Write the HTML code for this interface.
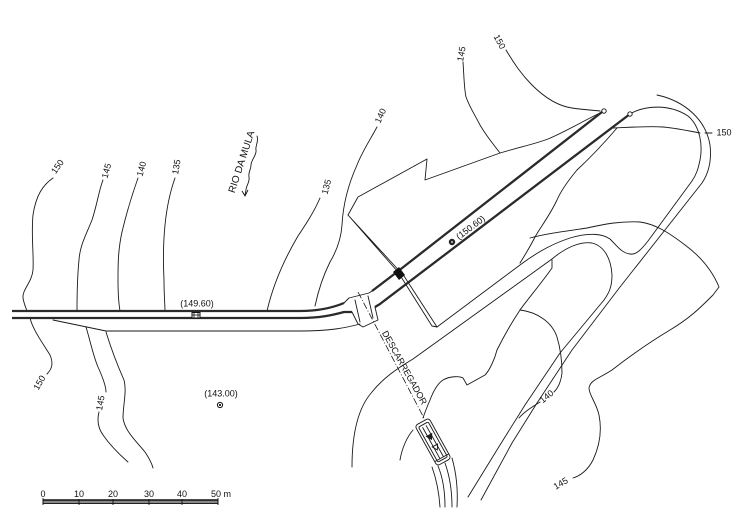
<!DOCTYPE html>
<html><head><meta charset="utf-8"><style>
html,body{margin:0;padding:0;background:#fff;}
svg{display:block;}
text{font-family:"Liberation Sans",sans-serif;fill:#111;}
</style></head><body>
<svg width="750" height="531" viewBox="0 0 750 531" xmlns="http://www.w3.org/2000/svg">
<rect width="750" height="531" fill="#fff"/>
<g fill="none" stroke="#1a1a1a" stroke-width="0.9" stroke-linejoin="round" stroke-linecap="round">
<!-- left contours -->
<path d="M53,178 C43,185 36,195 33,215 C31,235 34,255 33,270 C32,282 22,290 23,298 C24,304 26,308 27,311"/>
<path d="M30,318 C33,330 42,342 50,355 C53,362 53,368 47,374"/>
<path d="M103,180 C99,190 97,205 92,220 C86,235 80,245 79,260 C77,280 77,295 77,311"/>
<path d="M86,327 C90,340 93,355 98,367 C103,378 106,386 106,392"/>
<path d="M99,412 C97,420 98,428 103,435 C110,445 120,455 128,462"/>
<path d="M106,332 C110,345 116,362 124,380 C127,392 123,405 123,418 C125,432 138,443 145,452 C149,458 152,464 153,468"/>
<path d="M138,178 C132,195 126,215 122,232 C118,250 118,265 118,280 C118,295 119,305 120,311"/>
<path d="M175,178 C170,192 167,205 165,225 C163,245 163,260 164,280 C164,295 165,305 165,311"/>
<path d="M320,198 C314,212 306,224 298,236 C285,258 273,285 267,311"/>
<path d="M377,127 C370,140 362,152 357,165 C348,185 343,205 342,225 C341,240 336,252 330,262 C322,278 318,292 315,306"/>
<!-- toe line -->
<path d="M53,320 L106,331 L300,331 C330,331 345,328 360,324"/>
<!-- river arrow -->
<path d="M257,136 C259,142 255,146 256,150 C257,155 251,160 251,165 C251,170 248,172 249,177 C250,182 246,186 246,190 L245,195"/>
<!-- dam upstream outline -->
<path d="M348,215 L358,197 L427,159 L425,180 L500,153 C520,147 535,144 548,139 C565,132 585,120 602,112"/>
<path d="M463,62 C464,75 464,88 466,97 C470,108 475,115 480,125 C487,137 494,145 500,153"/>
<path d="M506,50 C515,65 522,75 532,85 C545,98 558,106 572,108 C585,110 592,110 600,111"/>
<!-- spike lines -->
<path d="M348,215 L398,272 L432,326 L437,327 L404,276 Z"/>
<!-- toe / branch upper + notch + inner loop -->
<path d="M437,327 L520,265 C540,250 555,243 570,238 C590,232 603,234 610,239 C618,247 622,253 630,254 C636,255 641,250 648,241 L692,181 C696,175 698,170 700,160 C703,145 700,126 688,116 C670,104 645,105 630,114"/>
<!-- outer loop / right road line -->
<path d="M657,95 C685,101 706,120 710,145 C712,162 708,174 702,183 L620,287 L572,350 L537,403 L512,443 L481,500"/>
<!-- branch lower + loop + left road line -->
<path d="M352,467 C352,440 356,410 372,392 C383,378 398,368 413,359 L552,259 C565,248 580,241 592,243 C604,246 611,258 612,275 C612,287 609,293 604,300 L560,353 L525,405 L500,445 L468,497"/>
<!-- jagged contour -->
<path d="M552,260 L552,268 C540,285 527,300 520,310 C510,325 503,338 497,350 C495,358 490,370 485,375 L467,385 L463,378 C460,376 450,376 443,380 C437,384 433,392 430,400 C427,407 425,412 423,418"/>
<!-- 140 right contour -->
<path d="M520,310 C537,312 552,322 557,337 C560,347 562,360 562,373 C561,382 558,388 554,392"/>
<path d="M540,402 C532,407 524,412 519,418"/>
<!-- 150 right contours -->
<path d="M613,128 C635,127 650,126 663,127 C675,128 685,130 700,133"/>
<path d="M705,133 L712,133"/>
<path d="M617,128 C605,142 590,158 577,170 C567,182 560,193 557,200 C550,215 540,228 535,237 C530,247 525,255 520,263"/>
<!-- far right 145 contour -->
<path d="M530,238 C545,234 560,232 587,228 C605,224 620,221 640,222 C655,224 668,232 685,245 C700,256 712,270 719,287 L713,295 C700,308 690,318 670,330 C650,342 630,356 612,370 C600,378 590,380 589,388 C589,395 596,402 599,415 C602,430 600,445 593,460 C588,470 580,476 573,478"/>
<!-- small arc near outlet -->
<path d="M413,430 C407,437 402,448 400,460"/>
<!-- channel -->
<path d="M432,467 C436,478 439,492 440,507"/>
<path d="M438,466 C443,478 445,492 445,507"/>
<path d="M445,463 C450,477 452,492 452,507"/>
<path d="M452,458 C456,472 458,490 457,507"/>
<!-- spillway structure on crest -->
<path d="M344,303 L349,298 L369,293 L372,291"/>
<path d="M352,312 L358,324 L363,327 L378,320 L375,307"/>
<path d="M355,300 L360,322 M368,296 L373,318"/>
</g>
<!-- descarregador axis -->
<path d="M358,292 L425,420" stroke="#1a1a1a" stroke-width="0.8" stroke-dasharray="7,2,1,2" fill="none"/>
<!-- crest thick lines -->
<g fill="none" stroke="#2a2a2a" stroke-width="2.3" stroke-linejoin="round">
<path d="M12,311 L300,311 C318,311 332,308 344,303"/>
<path d="M372,291 L397,272 L602,112"/>
<path d="M12,318 L300,318 C320,318 333,315 344,312 L352,312"/>
<path d="M375,307 L380,304 L630,114"/>
</g>
<path d="M400,273 L604,115" stroke="#fff" stroke-width="0.6" fill="none"/>
<polygon points="393,272 399,267 405,275 399,280" fill="#111"/>
<circle cx="604" cy="111" r="2.2" fill="#fff" stroke="#111" stroke-width="0.9"/>
<circle cx="630" cy="114" r="2.2" fill="#fff" stroke="#111" stroke-width="0.9"/>
<!-- markers -->
<rect x="192" y="312.5" width="8" height="5.5" fill="#fff" stroke="#111" stroke-width="1"/>
<path d="M194,313 L194,318 M198,313 L198,318 M192,315 L200,315" stroke="#111" stroke-width="0.8"/>
<circle cx="220" cy="405" r="2.6" fill="#fff" stroke="#111" stroke-width="1"/>
<circle cx="220" cy="405" r="1.1" fill="#111"/>
<circle cx="452" cy="242" r="3.2" fill="#222"/>
<circle cx="452" cy="242" r="0.9" fill="#fff"/>
<!-- outlet structure -->
<g transform="translate(433,442) rotate(-29)" fill="none" stroke="#1a1a1a" stroke-width="0.9">
<rect x="-8" y="-23" width="16" height="46" rx="3"/>
<rect x="-5.5" y="-20" width="11" height="40" rx="1.5"/>
<path d="M-2,-18 L-2,18 M2,-18 L2,18"/>
<path d="M-3,-8 L3,-8 L0,-3 Z" fill="#222"/>
<path d="M-3,4 L3,4 L0,9 Z"/>
<path d="M-8,18 L8,18"/>
</g>
<!-- scale bar -->
<g stroke="#111" stroke-width="0.9">
<rect x="43" y="500" width="175" height="3.5" fill="#888"/>
<line x1="43" y1="500" x2="218" y2="500" stroke-width="1.4"/>
<path d="M43,498 L43,505 M79,499 L79,505 M113,499 L113,505 M149,499 L149,505 M182,499 L182,505 M218,498 L218,505" fill="none"/>
</g>
<g font-size="9">
<text x="43" y="497" text-anchor="middle">0</text>
<text x="79" y="497" text-anchor="middle">10</text>
<text x="113" y="497" text-anchor="middle">20</text>
<text x="149" y="497" text-anchor="middle">30</text>
<text x="182" y="497" text-anchor="middle">40</text>
<text x="211" y="497">50 m</text>
</g>
<!-- labels -->
<g font-size="9" text-anchor="middle" dominant-baseline="middle">
<text transform="translate(58,167) rotate(-55)">150</text>
<text transform="translate(107,171) rotate(-75)">145</text>
<text transform="translate(142,169) rotate(-75)">140</text>
<text transform="translate(177,167) rotate(-80)">135</text>
<text transform="translate(327,187) rotate(-75)">135</text>
<text transform="translate(381,116) rotate(-65)">140</text>
<text transform="translate(462,54) rotate(-80)">145</text>
<text transform="translate(499,42) rotate(62)">150</text>
<text transform="translate(40,383) rotate(-60)">150</text>
<text transform="translate(101,403) rotate(-80)">145</text>
<text transform="translate(547,397) rotate(-40)">140</text>
<text transform="translate(561,484) rotate(-30)">145</text>
<text x="724" y="133">150</text>
<text x="197" y="304">(149.60)</text>
<text x="221" y="394">(143.00)</text>
<text transform="translate(471,228) rotate(-37)">(150.60)</text>
<text transform="translate(242,162) rotate(-72)" font-size="10">RIO DA MULA</text>
<text transform="translate(404,368) rotate(61)">DESCARREGADOR</text>
</g>
<path d="M242,191 L245,196 L248,190" fill="none" stroke="#111" stroke-width="0.9"/>
</svg>
</body></html>
